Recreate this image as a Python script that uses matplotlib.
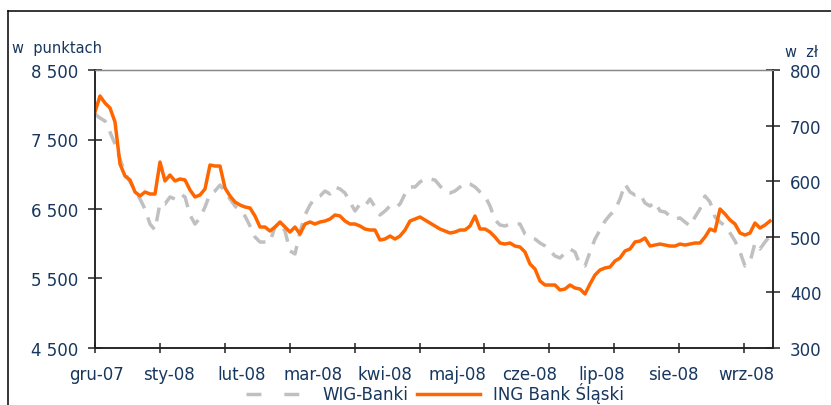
import matplotlib.pyplot as plt
import numpy as np
from matplotlib.lines import Line2D

# Data (one reading every ~1/136 of the span, gru-07 .. wrz-08)
wig_banki = [7867, 7809, 7766, 7608, 7435, 7220, 7018, 6889, 6774, 6644,
             6500, 6284, 6198, 6586, 6572, 6673, 6644, 6716, 6673, 6414,
             6284, 6371, 6529, 6716, 6759, 6845, 6745, 6644, 6543, 6471,
             6399, 6255, 6097, 6025, 6025, 6025, 6241, 6299, 6184, 5896,
             5853, 6169, 6414, 6558, 6658, 6687, 6759, 6716, 6817, 6788,
             6730, 6601, 6471, 6572, 6543, 6644, 6529, 6414, 6471, 6543,
             6514, 6572, 6716, 6817, 6817, 6889, 6932, 6932, 6917, 6831,
             6745, 6730, 6759, 6817, 6874, 6860, 6817, 6745, 6687, 6543,
             6342, 6270, 6255, 6284, 6284, 6284, 6140, 6097, 6068, 6011,
             5968, 5896, 5824, 5795, 5867, 5925, 5881, 5694, 5680, 5881,
             6068, 6198, 6327, 6414, 6486, 6644, 6860, 6745, 6701, 6716,
             6586, 6543, 6601, 6471, 6457, 6399, 6356, 6371, 6313, 6255,
             6385, 6500, 6687, 6601, 6385, 6313, 6255, 6155, 6040, 5881,
             5680, 5737, 6011, 5925, 6025, 6112]

ing_bsk = [724.5, 753.2, 740.6, 731.7, 706.5, 630.9, 609.3, 602.2, 580.6, 573.4,
           580.6, 577.0, 577.0, 634.5, 600.4, 611.1, 600.4, 604.0, 602.2, 584.2,
           571.6, 575.2, 586.0, 629.1, 627.3, 627.3, 587.8, 573.4, 562.6, 557.2,
           553.6, 551.8, 537.4, 517.6, 517.6, 510.4, 517.6, 526.6, 517.6, 508.6,
           517.6, 505.0, 523.0, 526.6, 523.0, 526.6, 528.4, 532.0, 539.2, 537.4,
           528.4, 523.0, 523.0, 519.4, 514.0, 512.2, 512.2, 494.2, 496.0, 501.4,
           496.0, 501.4, 512.2, 528.4, 532.0, 535.6, 530.2, 524.8, 519.4, 514.0,
           510.4, 506.8, 508.6, 512.2, 512.2, 519.4, 537.4, 514.0, 514.0, 508.6,
           499.6, 488.8, 487.0, 488.8, 483.4, 481.6, 472.6, 451.1, 442.1, 420.5,
           413.3, 413.3, 413.3, 404.3, 406.1, 413.3, 407.9, 406.1, 397.1, 415.1,
           431.3, 440.3, 443.9, 445.7, 456.5, 461.9, 474.5, 478.1, 490.7, 492.4,
           497.8, 483.4, 485.2, 487.0, 485.2, 483.4, 483.4, 487.0, 485.2, 487.0,
           488.8, 488.8, 499.6, 514.0, 510.4, 550.0, 541.0, 530.2, 523.0, 506.8,
           503.2, 506.8, 524.8, 515.8, 521.2, 528.4]

months = ['gru-07', 'sty-08', 'lut-08', 'mar-08', 'kwi-08', 'maj-08',
          'cze-08', 'lip-08', 'sie-08', 'wrz-08']
left_ticks = [4500, 5500, 6500, 7500, 8500]
right_ticks = [300, 400, 500, 600, 700, 800]

navy = '#17375E'
gray = '#C0C0C0'
orange = '#FF6600'
plt.rcParams['font.family'] = ['DejaVu Sans']
plt.rcParams['font.size'] = 12

W, H = 831, 406
fig = plt.figure(figsize=(W / 100, H / 100), dpi=100)
ax = fig.add_axes([95 / W, 57 / H, (772.7 - 95) / W, (349 - 71) / H])
ax2 = ax.twinx()

x = np.arange(len(wig_banki))
span = len(x) - 1 + 0.54

ax.plot(x, wig_banki, color=gray, lw=2.5, dashes=(4, 2.8), dash_capstyle='butt')
ax2.plot(x, ing_bsk, color=orange, lw=2.5)

ax.set_xlim(0, span)
ax.set_ylim(4500, 8500)
ax2.set_ylim(300, 800)
ax.set_yticks(left_ticks)
ax.set_yticklabels([f'{v // 1000} {v % 1000:03d}' for v in left_ticks])
ax2.set_yticks(right_ticks)

# ticks every ~65 px, month labels every ~72 px
px = span / (772.7 - 95)
ax.set_xticks([64.9 * k * px for k in range(11)])
ax.set_xticklabels([])
ax.set_xticks([(2 + 72.1 * k) * px for k in range(len(months))], minor=True)
ax.set_xticklabels(months, minor=True)

ax.tick_params(axis='x', which='major', direction='inout', length=6.7, width=1.1, color='#222222')
ax.tick_params(axis='x', which='minor', length=0, pad=12, labelcolor=navy, labelsize=12)
ax.tick_params(axis='y', direction='inout', length=9.4, width=1.1, color='#222222',
               pad=7.5, labelcolor=navy, labelsize=12)
ax2.tick_params(axis='y', direction='inout', length=10, width=1.1, color='#222222',
                pad=7.5, labelcolor=navy, labelsize=12)

for a in (ax, ax2):
    for s in ('left', 'bottom', 'right'):
        a.spines[s].set_color('#222222')
        a.spines[s].set_linewidth(1.1)
    a.spines['top'].set_color('#888888')
    a.spines['top'].set_linewidth(0.9)

fig.text(12 / W, 1 - 53 / H, 'w  punktach', color=navy, fontsize=10.5, va='baseline')
fig.text(785 / W, 1 - 57 / H, 'w  zł', color=navy, fontsize=10.5, va='baseline')

# legend handles (the dashed one uses the longer legend dash)
h1 = Line2D([], [], color=gray, lw=2.5, dashes=(4.3, 6.6), dash_capstyle='butt')
h2 = Line2D([], [], color=orange, lw=2.5)
fig.legend(handles=[h1, h2], labels=['WIG-Banki', 'ING Bank Śląski'], loc='center',
           bbox_to_anchor=(435 / W, 1 - 394 / H), ncol=2, frameon=False, fontsize=12,
           handlelength=3.8, handletextpad=0.8, columnspacing=0.5, labelcolor=navy,
           borderpad=0.1)

# outer frame (top and left edges visible)
fy = 1 - 12 / H
fx = 8 / W
fig.add_artist(Line2D([fx, 1], [fy, fy], transform=fig.transFigure, color='black', lw=1.1))
fig.add_artist(Line2D([fx, fx], [0, fy], transform=fig.transFigure, color='black', lw=1.1))

fig.savefig('out.png', dpi=100)
